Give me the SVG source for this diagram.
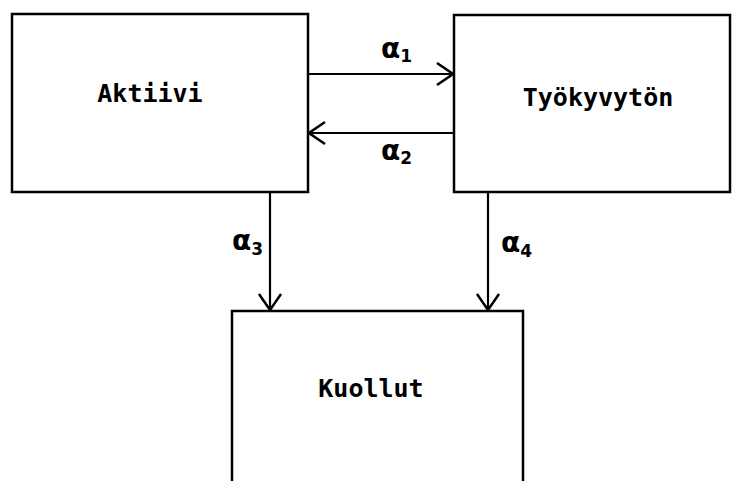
<svg xmlns="http://www.w3.org/2000/svg" width="732" height="481" viewBox="0 0 732 481">
  <style>
    .box { fill: #fff; stroke: #000; stroke-width: 2.5; }
    .label { font-family: "DejaVu Sans Mono", "Liberation Mono", monospace; font-weight: bold; font-size: 25px; fill: #000; text-anchor: middle; }
    .edge { stroke: #000; stroke-width: 2.2; fill: none; marker-end: url(#vhead); }
    .rate { font-family: "DejaVu Sans", "Liberation Sans", sans-serif; font-weight: bold; font-size: 28px; fill: #000; }
    .sub { font-size: 17px; }
  </style>
  <defs>
    <marker id="vhead" viewBox="-18 -13 20 26" refX="0" refY="0" markerWidth="20" markerHeight="26" markerUnits="userSpaceOnUse" orient="auto">
      <path d="M-16,-11 L0,0 L-16,11" fill="none" stroke="#000" stroke-width="2.5"/>
    </marker>
  </defs>
  <rect width="732" height="481" fill="#fff"/>

  <g id="aktiivi">
    <rect class="box" x="12" y="14" width="296" height="178"/>
    <text class="label" x="150" y="102">Aktiivi</text>
  </g>

  <g id="tyokyvyton">
    <rect class="box" x="454" y="15" width="276" height="177"/>
    <text class="label" x="598" y="106">Työkyvytön</text>
  </g>

  <g id="kuollut">
    <path class="box" d="M232,490 L232,311 L523,311 L523,490"/>
    <text class="label" x="371" y="397">Kuollut</text>
  </g>

  <g id="connectors">
    <line class="edge" x1="308" y1="74" x2="453" y2="74"/>
    <line class="edge" x1="454" y1="133" x2="309" y2="133"/>
    <line class="edge" x1="270" y1="192" x2="270" y2="310"/>
    <line class="edge" x1="488" y1="192" x2="488" y2="310"/>
    <text class="rate" x="381" y="58">α<tspan class="sub" dy="4">1</tspan></text>
    <text class="rate" x="381" y="160">α<tspan class="sub" dy="4">2</tspan></text>
    <text class="rate" x="232" y="250">α<tspan class="sub" dy="5">3</tspan></text>
    <text class="rate" x="501" y="252">α<tspan class="sub" dy="5">4</tspan></text>
  </g>
</svg>
